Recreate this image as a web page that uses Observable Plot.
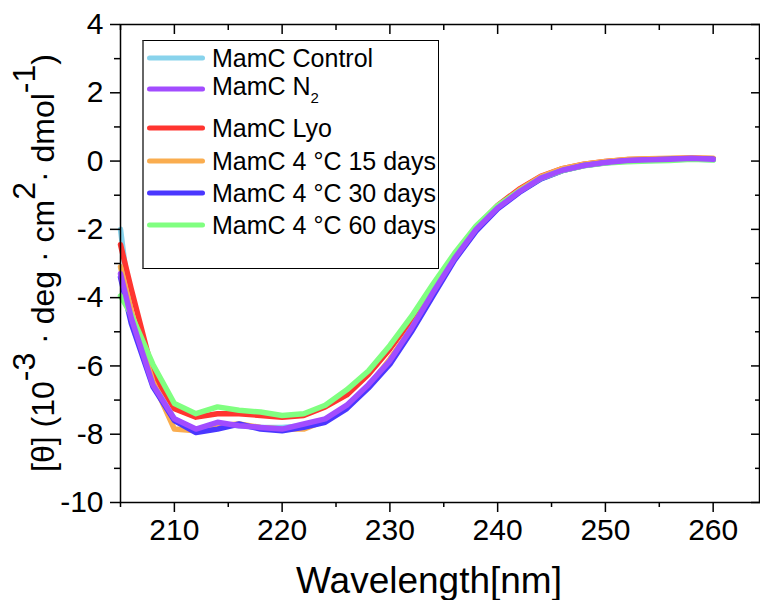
<!DOCTYPE html>
<html>
<head>
<meta charset="utf-8">
<script src="https://cdn.jsdelivr.net/npm/d3@7"></script>
<script src="https://cdn.jsdelivr.net/npm/@observablehq/plot@0.6"></script>
<style>
  html, body { margin: 0; padding: 0; background: #fff; }
  #wrap { position: relative; width: 760px; height: 600px; font-family: "Liberation Sans", Arial, sans-serif; }
  #legend { position: absolute; left: 142px; top: 40px; width: 297px; height: 229px; border: 1.3px solid #000; border-left: 2px solid #666; background: #fff; box-sizing: border-box; }
  .entry { position: absolute; left: 0; height: 0; }
  .swatch { position: absolute; left: 3px; width: 58px; height: 5px; border-radius: 3px; transform: translateY(-2.5px); }
  .lab { position: absolute; left: 68px; top: 0; transform: translateY(-50%); font-size: 25px; line-height: 1; white-space: nowrap; color: #000; }
  .lab sub { font-size: 15px; vertical-align: -8px; }
</style>
</head>
<body>
<div id="wrap"></div>
<script>
// ---- data ----
const wavelengths = [205, 206, 208, 210, 212, 214, 216, 218, 220, 222, 224, 226, 228, 230, 232, 234, 236, 238, 240, 242, 244, 246, 248, 250, 252, 254, 256, 258, 260];
const control = [-2.0, -4.5, -6.5, -7.55, -7.9, -7.7, -7.75, -7.8, -7.8, -7.75, -7.6, -7.2, -6.6, -5.85, -4.9, -3.85, -2.85, -2.0, -1.37, -0.9, -0.52, -0.28, -0.13, -0.05, 0.0, 0.02, 0.04, 0.06, 0.04];
const n2 = [-3.3, -4.6, -6.55, -7.55, -7.85, -7.65, -7.75, -7.8, -7.85, -7.7, -7.55, -7.15, -6.55, -5.85, -4.9, -3.85, -2.85, -2.0, -1.37, -0.9, -0.5, -0.27, -0.13, -0.04, 0.02, 0.04, 0.05, 0.08, 0.05];
const lyo = [-2.45, -3.75, -6.2, -7.25, -7.5, -7.4, -7.4, -7.45, -7.5, -7.45, -7.2, -6.85, -6.25, -5.5, -4.65, -3.7, -2.75, -1.95, -1.3, -0.82, -0.45, -0.22, -0.09, -0.01, 0.04, 0.06, 0.07, 0.09, 0.07];
const days15 = [-3.1, -4.4, -6.45, -7.85, -7.9, -7.75, -7.7, -7.8, -7.85, -7.85, -7.6, -7.2, -6.6, -5.8, -4.9, -3.85, -2.85, -2.0, -1.35, -0.85, -0.46, -0.22, -0.09, -0.01, 0.05, 0.07, 0.08, 0.09, 0.08];
const days30 = [-3.4, -4.75, -6.6, -7.6, -7.95, -7.85, -7.7, -7.85, -7.9, -7.8, -7.65, -7.25, -6.65, -5.95, -5.0, -3.95, -2.9, -2.05, -1.4, -0.92, -0.52, -0.28, -0.13, -0.05, 0.01, 0.03, 0.05, 0.07, 0.05];
const days60 = [-3.95, -4.5, -5.95, -7.1, -7.4, -7.2, -7.3, -7.35, -7.45, -7.4, -7.15, -6.7, -6.15, -5.4, -4.55, -3.6, -2.7, -1.9, -1.3, -0.88, -0.5, -0.28, -0.14, -0.06, -0.02, 0.0, 0.02, 0.05, 0.03];

const seriesNames = ["MamC Control", "MamC N2", "MamC Lyo", "MamC 4 °C 15 days", "MamC 4 °C 30 days", "MamC 4 °C 60 days"];
const seriesValues = [control, n2, lyo, days15, days30, days60];
const seriesColors = ["#88d3ec", "#a24cff", "#ff3530", "#faad4f", "#4a37ff", "#80ff80"];
const drawOrder = [0, 2, 3, 4, 5, 1];

const xMajorTicks = [210, 220, 230, 240, 250, 260];
const xMinorTicks = [205, 215, 225, 235, 245, 255];
const yMajorTicks = [-10, -8, -6, -4, -2, 0, 2, 4];
const yMinorTicks = [-9, -7, -5, -3, -1, 1, 3];

// ---- table ----
const rows = [];
for (const i of drawOrder) {
  wavelengths.forEach((w, j) => rows.push({series: seriesNames[i], wavelength: w, value: seriesValues[i][j]}));
}

const FONT = "Liberation Sans, Arial, sans-serif";
const svg = Plot.plot({
  width: 760,
  height: 600,
  marginLeft: 120,
  marginRight: 1,
  marginTop: 24,
  marginBottom: 98,
  style: {fontFamily: FONT, fontSize: "29px", color: "#000", background: "#fff"},
  x: {domain: [205, 264.3]},
  y: {domain: [-10, 4]},
  color: {domain: seriesNames, range: seriesColors},
  marks: [
    Plot.line(rows, {x: "wavelength", y: "value", z: "series", stroke: "series", strokeWidth: 5.5, strokeLinejoin: "round", strokeLinecap: "round"}),
    Plot.frame({stroke: "#000", strokeWidth: 1.5}),
    Plot.axisX({ticks: xMajorTicks, tickSize: 10, tickPadding: 6, tickFormat: d => String(d), label: null, strokeWidth: 1.5, fontSize: 30}),
    Plot.axisX({ticks: xMinorTicks, tickSize: 5, text: null, label: null, strokeWidth: 1.5}),
    Plot.axisX({anchor: "top", ticks: xMajorTicks, tickSize: -9, text: null, label: null, strokeWidth: 1.5}),
    Plot.axisX({anchor: "top", ticks: xMinorTicks, tickSize: -5, text: null, label: null, strokeWidth: 1.5}),
    Plot.axisY({ticks: yMajorTicks, tickSize: 10, tickPadding: 7, tickFormat: d => String(d), label: null, strokeWidth: 1.5, fontSize: 30}),
    Plot.axisY({ticks: yMinorTicks, tickSize: 6, text: null, label: null, strokeWidth: 1.5}),
    Plot.axisY({anchor: "right", ticks: yMajorTicks, tickSize: -9, text: null, label: null, strokeWidth: 1.5}),
    Plot.axisY({anchor: "right", ticks: yMinorTicks, tickSize: -5, text: null, label: null, strokeWidth: 1.5})
  ]
});

const s = d3.select(svg);
// x label
s.append("text")
  .attr("x", 429).attr("y", 593)
  .attr("text-anchor", "middle")
  .attr("font-size", 37)
  .attr("font-family", FONT)
  .attr("fill", "#000")
  .text("Wavelength[nm]");
// y label
const yl = s.append("text")
  .attr("transform", "translate(54,263) rotate(-90)")
  .attr("text-anchor", "middle")
  .attr("font-size", 32)
  .attr("font-family", FONT)
  .attr("fill", "#000");
yl.append("tspan").text("[θ] (10");
yl.append("tspan").attr("dy", -19).text("-3");
yl.append("tspan").attr("dy", 19).text(" · deg · cm");
yl.append("tspan").attr("dy", -19).text("2");
yl.append("tspan").attr("dy", 19).text("· dmol");
yl.append("tspan").attr("dy", -19).text("-1");
yl.append("tspan").attr("dy", 19).text(")");

const wrap = document.getElementById("wrap");
wrap.appendChild(svg);

// legend
const legend = document.createElement("div");
legend.id = "legend";
const rowY = [17, 48, 87, 120, 152, 184];
seriesNames.forEach((name, i) => {
  const e = document.createElement("div");
  e.className = "entry";
  e.style.top = rowY[i] + "px";
  const sw = document.createElement("div");
  sw.className = "swatch";
  sw.style.background = seriesColors[i];
  e.appendChild(sw);
  const lab = document.createElement("div");
  lab.className = "lab";
  if (name === "MamC N2") lab.innerHTML = "MamC N<sub>2</sub>";
  else lab.textContent = name;
  e.appendChild(lab);
  legend.appendChild(e);
});
wrap.appendChild(legend);
</script>
</body>
</html>
